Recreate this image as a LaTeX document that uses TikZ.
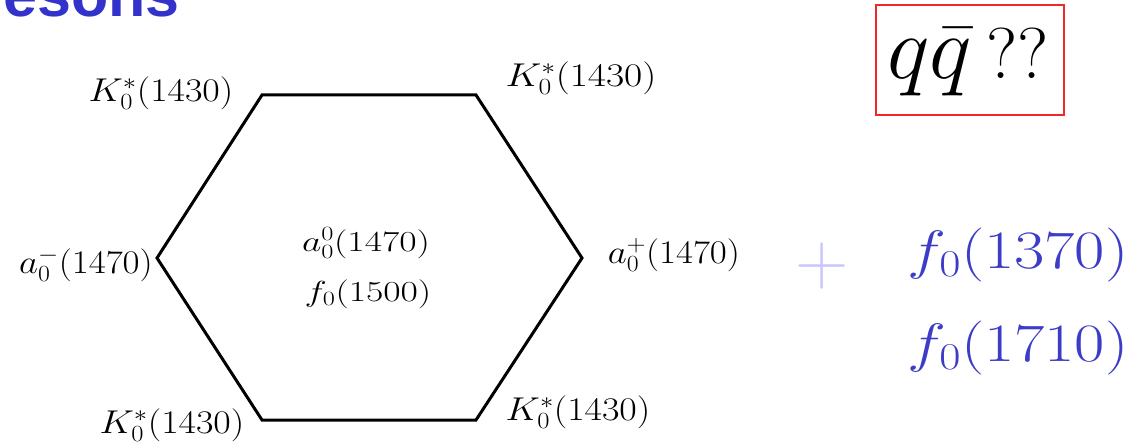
\RequirePackage{fix-cm}
\documentclass[tikz,border=0pt]{standalone}
\usepackage{graphicx}
\usepackage{fontspec}
\setsansfont{Liberation Sans}
\definecolor{titleblue}{RGB}{51,51,204}
\definecolor{fblue}{RGB}{60,60,200}
\definecolor{plusblue}{RGB}{200,200,255}
\definecolor{boxred}{RGB}{240,40,40}
\newcommand{\wideby}[2]{\scalebox{#1}[1]{#2}}
\begin{document}
\begin{tikzpicture}[x=1pt,y=-1pt,
  lab/.style={inner sep=0pt, font=\fontsize{33}{38}\selectfont},
  clab/.style={inner sep=0pt, font=\fontsize{29}{34}\selectfont},
  flab/.style={inner sep=0pt, text=fblue, font=\fontsize{54}{60}\selectfont},
  hexline/.style={line width=3pt, line join=miter}]
\useasboundingbox (0,0) rectangle (1134,446);
% title (cut off)
\node[anchor=base east, inner sep=0pt, text=titleblue, font=\sffamily\bfseries\fontsize{61}{70}\selectfont] (title) at (180,17) {Mesons};
% hexagon
\coordinate (v1) at (262,95);
\coordinate (v2) at (476,95);
\coordinate (v3) at (582,258);
\coordinate (v4) at (476,420);
\coordinate (v5) at (262,420);
\coordinate (v6) at (157,258);
\draw[hexline] (v1)--(v2)--(v3)--(v4)--(v5)--(v6)--cycle;
% vertex labels
\node[lab] (kTL) at (161,93) {\wideby{1.15}{$K_0^*(1430)$}};
\node[lab] (kTR) at (581,78) {\wideby{1.2}{$K_0^*(1430)$}};
\node[lab] (aL) at (86,265) {\wideby{1.12}{$a_0^-(1470)$}};
\node[lab] (aR) at (674,255) {\wideby{1.12}{$a_0^+(1470)$}};
\node[lab] (kBL) at (172,425) {\wideby{1.15}{$K_0^*(1430)$}};
\node[lab] (kBR) at (578,412) {\wideby{1.15}{$K_0^*(1430)$}};
% centre
\node[clab] (a00) at (366,243) {\wideby{1.3}{$a_0^0(1470)$}};
\node[clab] (f1500) at (368,294) {\wideby{1.3}{$f_0(1500)$}};
% right side
\node[inner sep=0pt, text=plusblue, font=\fontsize{74}{76}\selectfont] (plus) at (822,266) {$+$};
\node[flab] (f1370) at (1018,255) {\wideby{1.22}{$f_0(1370)$}};
\node[flab] (f1710) at (1018,348) {\wideby{1.22}{$f_0(1710)$}};
% q qbar box
\node[draw=boxred, line width=2pt, minimum width=188pt, minimum height=110pt, inner sep=0pt] (qq) at (970,60) {};
\node[inner sep=0pt] (qqtext) at (968,62) {\fontsize{90}{100}\selectfont$q\bar{q}$\,\fontsize{72}{80}\selectfont ??};
\end{tikzpicture}
\end{document}
